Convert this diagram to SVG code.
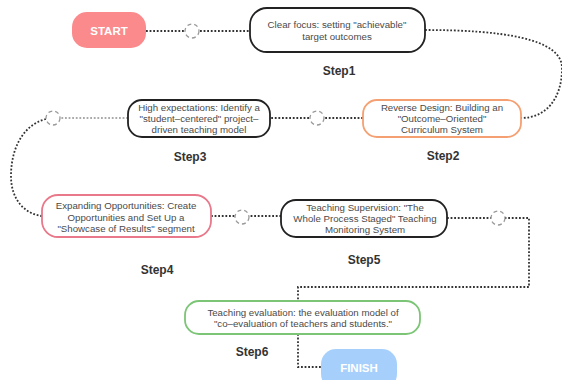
<svg xmlns="http://www.w3.org/2000/svg" width="562" height="380" viewBox="0 0 562 380">
<style>
.box{fill:#fff;stroke-width:1.8}
.t{font-family:"Liberation Sans",Arial,sans-serif;font-size:9.7px;fill:#4a4a4a;text-anchor:middle}
.s{font-family:"Liberation Sans",Arial,sans-serif;font-size:12px;font-weight:bold;fill:#333;text-anchor:middle}
.term{font-family:"Liberation Sans",Arial,sans-serif;font-size:11.5px;font-weight:bold;fill:#fff;text-anchor:middle}
.c{fill:none;stroke:#333;stroke-width:1.8;stroke-dasharray:1.8 1.8}
.cl{fill:none;stroke:#aaa;stroke-width:1.8;stroke-dasharray:1.8 1.8}
.k{fill:#fff;stroke:#999;stroke-width:1.3;stroke-dasharray:4 3}
</style>
<rect width="562" height="380" fill="#fff"/>
<g id="connectors">
<path class="c" d="M146,31 H250"/>
<path class="c" d="M425,30 C500,30 562,38 562,68 C562,100 545,118 521,118"/>
<path class="c" d="M363,118 H270"/>
<path class="cl" d="M128,118 H58"/>
<path class="c" d="M46,119 C22,125 11,150 11,176 C11,200 25,214 42,216"/>
<path class="c" d="M211,216 H281"/>
<path class="c" d="M447,218 H529 V287 H298 V301"/>
<path class="c" d="M298,334 V367 H321"/>
<circle class="k" cx="192" cy="31" r="7"/>
<circle class="k" cx="317" cy="118" r="7"/>
<circle class="k" cx="53" cy="118" r="7"/>
<circle class="k" cx="242" cy="217" r="7"/>
<circle class="k" cx="498" cy="218" r="7"/>
</g>
<g id="start">
<rect x="72" y="12" width="74" height="36" rx="15" fill="#fb8a8c"/>
<text class="term" x="109" y="34.5">START</text>
</g>
<g id="step1">
<rect class="box" x="250" y="8" width="175" height="44" rx="17" stroke="#222"/>
<text class="t" x="337" y="28">Clear focus: setting "achievable"</text>
<text class="t" x="337" y="40">target outcomes</text>
<text class="s" x="339" y="75">Step1</text>
</g>
<g id="step2">
<rect class="box" x="363" y="100" width="158" height="37" rx="14" stroke="#f4a072"/>
<text class="t" x="442" y="111">Reverse Design: Building an</text>
<text class="t" x="442" y="122">"Outcome–Oriented"</text>
<text class="t" x="442" y="133">Curriculum System</text>
<text class="s" x="443" y="160">Step2</text>
</g>
<g id="step3">
<rect class="box" x="128" y="100" width="142" height="37" rx="14" stroke="#222"/>
<text class="t" x="199" y="111">High expectations: Identify a</text>
<text class="t" x="199" y="122">"student–centered" project–</text>
<text class="t" x="199" y="133">driven teaching model</text>
<text class="s" x="190" y="161">Step3</text>
</g>
<g id="step4">
<rect class="box" x="42" y="195" width="169" height="42" rx="16" stroke="#e8788a"/>
<text class="t" x="126" y="209">Expanding Opportunities: Create</text>
<text class="t" x="126" y="221">Opportunities and Set Up a</text>
<text class="t" x="126" y="232">"Showcase of Results" segment</text>
<text class="s" x="157" y="274">Step4</text>
</g>
<g id="step5">
<rect class="box" x="281" y="200" width="166" height="37" rx="15" stroke="#222"/>
<text class="t" x="365" y="211">Teaching Supervision: "The</text>
<text class="t" x="365" y="222">Whole Process Staged" Teaching</text>
<text class="t" x="365" y="233">Monitoring System</text>
<text class="s" x="364" y="264">Step5</text>
</g>
<g id="step6">
<rect class="box" x="185" y="301" width="235" height="33" rx="14" stroke="#7cc576"/>
<text class="t" x="303" y="316">Teaching evaluation: the evaluation model of</text>
<text class="t" x="303" y="327">"co–evaluation of teachers and students."</text>
<text class="s" x="252" y="356">Step6</text>
</g>
<g id="finish">
<rect x="321" y="349" width="76" height="40" rx="15" fill="#a6d0fb"/>
<text class="term" x="359" y="372">FINISH</text>
</g>
</svg>
